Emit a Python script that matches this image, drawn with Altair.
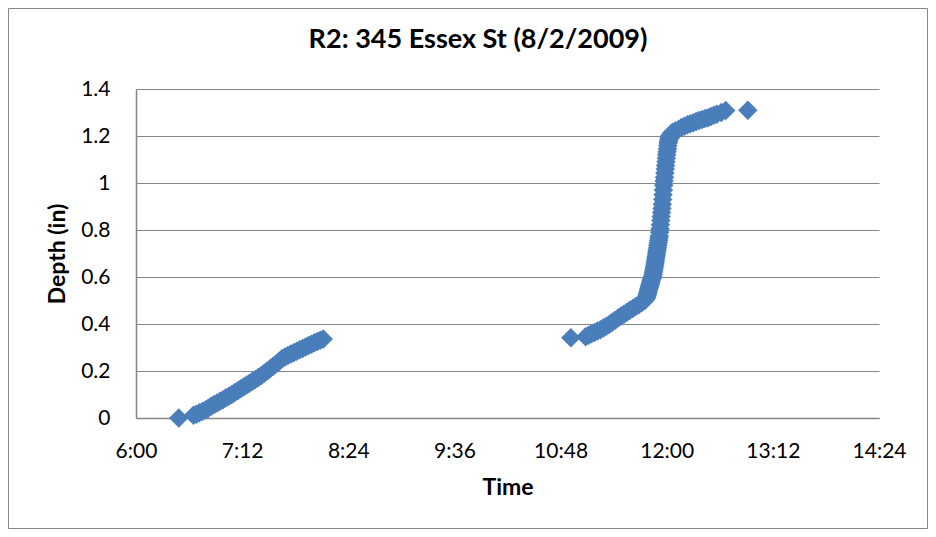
import altair as alt
import pandas as pd

chart_title = "R2: 345 Essex St (8/2/2009)"
x_title = "Time"
y_title = "Depth (in)"
x_tick_labels = ["6:00", "7:12", "8:24", "9:36", "10:48", "12:00", "13:12", "14:24"]
y_tick_values = [0, 0.2, 0.4, 0.6, 0.8, 1.0, 1.2, 1.4]

# Morning event (clock time, depth in inches)
times_am = ["6:29", "6:39", "6:41", "6:43", "6:45", "6:47", "6:49", "6:51", "6:53", "6:55",
            "6:57", "6:59", "7:01", "7:03", "7:05", "7:07", "7:09", "7:11", "7:13", "7:15",
            "7:17", "7:19", "7:21", "7:23", "7:25", "7:27", "7:29", "7:31", "7:33", "7:35",
            "7:37", "7:39", "7:41", "7:43", "7:45", "7:47", "7:49", "7:51", "7:53", "7:55",
            "7:57", "7:59", "8:01", "8:03", "8:05", "8:07"]
depths_am = [0.000, 0.012, 0.016, 0.022, 0.028, 0.034, 0.042, 0.050, 0.057, 0.064,
             0.071, 0.078, 0.086, 0.093, 0.100, 0.108, 0.116, 0.124, 0.132, 0.140,
             0.148, 0.156, 0.164, 0.172, 0.181, 0.190, 0.200, 0.210, 0.220, 0.230,
             0.240, 0.252, 0.260, 0.266, 0.272, 0.278, 0.284, 0.290, 0.296, 0.302,
             0.308, 0.314, 0.320, 0.326, 0.331, 0.336]

# Midday event: slow rise before the burst
times_pm_a = ["10:55", "11:05", "11:07", "11:09", "11:11", "11:13", "11:15", "11:17", "11:19",
              "11:21", "11:23", "11:25", "11:27", "11:29", "11:31", "11:33", "11:35", "11:37",
              "11:39", "11:41", "11:43"]
depths_pm_a = [0.342, 0.346, 0.352, 0.358, 0.364, 0.370, 0.376, 0.383, 0.390,
               0.398, 0.407, 0.416, 0.425, 0.434, 0.442, 0.450, 0.458, 0.466,
               0.474, 0.482, 0.490]

# Midday burst, read every 15 seconds
times_pm_b = ["11:45:00", "11:45:15", "11:45:30", "11:45:45", "11:46:00", "11:46:15", "11:46:30",
              "11:46:45", "11:47:00", "11:47:15", "11:47:30", "11:47:45", "11:48:00", "11:48:15",
              "11:48:30", "11:48:45", "11:49:00", "11:49:15", "11:49:30", "11:49:45", "11:50:00",
              "11:50:15", "11:50:30", "11:50:45", "11:51:00", "11:51:15", "11:51:30", "11:51:45",
              "11:52:00", "11:52:15", "11:52:30", "11:52:45", "11:53:00", "11:53:15", "11:53:30",
              "11:53:45", "11:54:00", "11:54:15", "11:54:30", "11:54:45", "11:55:00", "11:55:15",
              "11:55:30", "11:55:45", "11:56:00", "11:56:15", "11:56:30", "11:56:45", "11:57:00",
              "11:57:15", "11:57:30", "11:57:45", "11:58:00", "11:58:15", "11:58:30", "11:58:45",
              "11:59:00", "11:59:15", "11:59:30", "11:59:45", "12:00:00", "12:00:15", "12:00:30",
              "12:00:45", "12:01:00", "12:01:15", "12:01:30", "12:01:45", "12:02:00"]
depths_pm_b = [0.500, 0.502, 0.505, 0.507, 0.510, 0.514, 0.518,
               0.523, 0.528, 0.534, 0.540, 0.546, 0.552, 0.557,
               0.563, 0.568, 0.574, 0.579, 0.585, 0.590, 0.594,
               0.598, 0.603, 0.611, 0.620, 0.628, 0.637, 0.646,
               0.655, 0.665, 0.675, 0.685, 0.695, 0.705, 0.715,
               0.725, 0.735, 0.745, 0.755, 0.765, 0.775, 0.790,
               0.805, 0.822, 0.840, 0.857, 0.875, 0.892, 0.910,
               0.930, 0.950, 0.970, 0.990, 1.008, 1.025, 1.043,
               1.060, 1.075, 1.090, 1.105, 1.120, 1.133, 1.145,
               1.158, 1.170, 1.178, 1.185, 1.193, 1.200]

# Midday event: tail after the burst
times_pm_c = ["12:03", "12:04", "12:06", "12:08", "12:10", "12:12", "12:14", "12:16", "12:18",
              "12:20", "12:22", "12:24", "12:26", "12:28", "12:30", "12:32", "12:34", "12:37",
              "12:40", "12:55"]
depths_pm_c = [1.210, 1.216, 1.222, 1.228, 1.236, 1.242, 1.248, 1.252, 1.256,
               1.262, 1.266, 1.270, 1.274, 1.278, 1.283, 1.288, 1.293, 1.300,
               1.308, 1.310]


def to_minutes(s):
    parts = [int(p) for p in s.split(":")]
    sec = parts[2] if len(parts) > 2 else 0
    return parts[0] * 60 + parts[1] + sec / 60.0


all_times = times_am + times_pm_a + times_pm_b + times_pm_c
all_depths = depths_am + depths_pm_a + depths_pm_b + depths_pm_c
df = pd.DataFrame({"t": [to_minutes(s) for s in all_times], "depth": all_depths})

x_values = [to_minutes(s) for s in x_tick_labels]
FONT = "Lato"
GRAY = "#868686"

x_label_expr = ("floor(datum.value/60) + ':' + (datum.value % 60 < 10 ? '0' : '') + "
                "(datum.value % 60)")

points = alt.Chart(df).mark_point(
    shape="diamond", filled=True, size=380, color="#4a7ebb", opacity=1
).encode(
    x=alt.X("t:Q",
            scale=alt.Scale(domain=[x_values[0], x_values[-1]], nice=False, zero=False),
            axis=alt.Axis(values=x_values, labelExpr=x_label_expr, title=x_title,
                          grid=False, ticks=False, labelFlush=False, labelOverlap=False,
                          labelPadding=22, titlePadding=15,
                          domainColor=GRAY, domainWidth=1.5)),
    y=alt.Y("depth:Q",
            scale=alt.Scale(domain=[0, 1.4], nice=False),
            axis=alt.Axis(values=y_tick_values, format="~g", title=y_title,
                          grid=True, gridColor=GRAY, gridWidth=1.2, ticks=False,
                          labelFlush=False, labelOverlap=False,
                          labelPadding=26, titlePadding=11,
                          domainColor=GRAY, domainWidth=1.5)),
)

border = alt.Chart(alt.Data(values=[{}])).mark_rect(
    filled=False, stroke=GRAY, strokeWidth=1
).encode(
    x=alt.value(-127.5), x2=alt.value(791.5),
    y=alt.value(-80.5), y2=alt.value(439.5),
)

title_mark = alt.Chart(alt.Data(values=[{"label": chart_title}])).mark_text(
    font=FONT, fontSize=27, fontWeight="bold", color="#000000",
    align="center", baseline="alphabetic"
).encode(
    text="label:N",
    x=alt.value(342),
    y=alt.value(-41),
)

chart = alt.layer(border, title_mark, points).properties(
    width=743,
    height=329,
    padding={"left": 128, "top": 81, "right": 49, "bottom": 111},
    autosize=alt.AutoSizeParams(type="none"),
    background="white",
).configure_view(stroke=None).configure_axis(
    labelFont=FONT, labelFontSize=21, labelColor="#000000",
    titleFont=FONT, titleFontSize=23, titleFontWeight="bold", titleColor="#000000",
)

chart.save("out.html", embed_options={"renderer": "svg", "actions": False})
